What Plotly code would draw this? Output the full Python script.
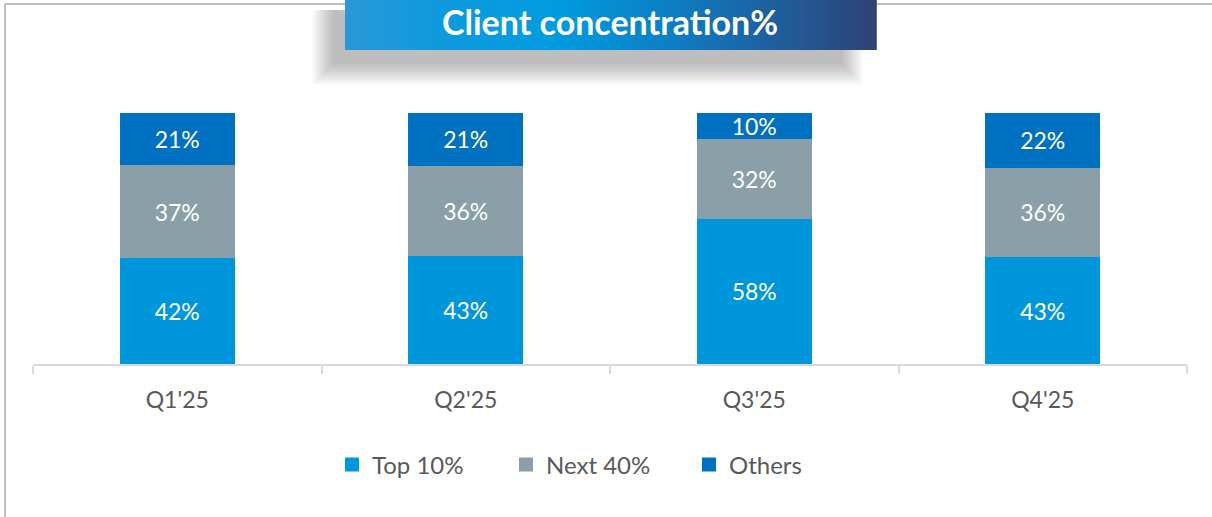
import plotly.graph_objects as go

categories = ["Q1'25", "Q2'25", "Q3'25", "Q4'25"]
top10 = [42.2, 43.0, 57.8, 42.6]
next40 = [37.0, 36.0, 32.0, 35.6]
others = [20.8, 21.0, 10.2, 21.8]
series_names = ["Top 10%", "Next 40%", "Others"]
series_colors = ["#0096DB", "#8A9FA8", "#0070C0"]
title_text = "Client concentration%"

W, H = 1212, 517
L, R, T, B = 33, 25, 113, 153
PW, PH = W - L - R, H - T - B
FONT = "Lato, Open Sans, sans-serif"


def px(x):
    return (x - L) / PW


def py(y):
    return (H - B - y) / PH


fig = go.Figure()
for name, vals, col in zip(series_names, [top10, next40, others], series_colors):
    fig.add_trace(go.Bar(
        x=categories, y=vals, name=name, marker=dict(color=col, line=dict(width=0)),
        texttemplate="%{y:.0f}%", textposition="inside", insidetextanchor="middle",
        constraintext="none", showlegend=False,
        textfont=dict(color="white", size=23, family=FONT), hoverinfo="skip",
    ))

# legend-only entries with square symbols, one legend per entry for exact placement
legend_x = [345, 519, 702]
legend_names = ["legend", "legend2", "legend3"]
for name, col, ln in zip(series_names, series_colors, legend_names):
    fig.add_trace(go.Scatter(
        x=[None], y=[None], mode="markers", name=name, legend=ln,
        marker=dict(symbol="square", size=14, color=col), showlegend=True, hoverinfo="skip",
    ))

shapes = []
# chart border (left and top)
shapes.append(dict(type="line", xref="paper", yref="paper", x0=px(5), x1=px(5), y0=py(4), y1=py(H + 5),
                   line=dict(color="#BFBFBF", width=2), layer="below"))
shapes.append(dict(type="line", xref="paper", yref="paper", x0=px(5), x1=px(W + 5), y0=py(4), y1=py(4),
                   line=dict(color="#BFBFBF", width=2), layer="below"))

# soft shadow of title box
bx0, bx1, by0, by1 = 345, 876, -2, 50
layers = 14
for i in range(layers):
    g = (layers - 1 - i) * 1.6
    shapes.append(dict(type="rect", xref="paper", yref="paper",
                       x0=px(bx0 - 12 - g), x1=px(bx1 - 34 + g), y0=py(by1 + 14 + g), y1=py(by0 + 12),
                       fillcolor="rgba(60,60,60,0.022)", line=dict(width=0)))

# gradient title box built from thin strips
stops = [(0.0, (42, 152, 215)), (0.15, (18, 154, 222)), (0.4, (0, 155, 223)),
         (0.6, (12, 128, 198)), (0.8, (30, 96, 160)), (1.0, (48, 66, 116))]


def color_at(t):
    for (t0, c0), (t1, c1) in zip(stops[:-1], stops[1:]):
        if t0 <= t <= t1:
            f = (t - t0) / (t1 - t0)
            return "rgb(%d,%d,%d)" % tuple(round(a + (b - a) * f) for a, b in zip(c0, c1))
    return "rgb(%d,%d,%d)" % stops[-1][1]


n = 90
sw = (bx1 - bx0) / n
for i in range(n):
    shapes.append(dict(type="rect", xref="paper", yref="paper",
                       x0=px(bx0 + i * sw), x1=px(bx0 + (i + 1) * sw + 0.8), y0=py(by1), y1=py(by0),
                       fillcolor=color_at((i + 0.5) / n), line=dict(width=0)))

legend_common = dict(orientation="h", yanchor="middle", y=py(465), xanchor="left",
                     font=dict(color="#595959", size=24, family=FONT), itemwidth=30,
                     bgcolor="rgba(0,0,0,0)", borderwidth=0)

fig.update_layout(
    width=W, height=H, margin=dict(l=L, r=R, t=T, b=B),
    paper_bgcolor="white", plot_bgcolor="white",
    barmode="stack", bargap=0.6,
    shapes=shapes,
    annotations=[dict(text="<b>" + title_text + "</b>", xref="paper", yref="paper",
                      x=px(610), y=py(21), xanchor="center", yanchor="middle", showarrow=False,
                      font=dict(color="white", size=34, family=FONT))],
    xaxis=dict(showline=True, linecolor="#D9D9D9", linewidth=2, ticks="outside", tickson="boundaries",
               ticklen=8, tickcolor="#D9D9D9", tickwidth=2, range=[-0.5, 3.5],
               tickfont=dict(color="#595959", size=23, family=FONT), ticklabelstandoff=14,
               showgrid=False, zeroline=False, fixedrange=True),
    yaxis=dict(range=[0, 100], visible=False, fixedrange=True),
    legend=dict(x=px(legend_x[0] - 13), **legend_common),
    legend2=dict(x=px(legend_x[1] - 13), **legend_common),
    legend3=dict(x=px(legend_x[2] - 13), **legend_common),
)

fig.write_html("out.html", config={"displayModeBar": False},
               post_script="document.body.style.margin='0';document.body.style.padding='0';")
